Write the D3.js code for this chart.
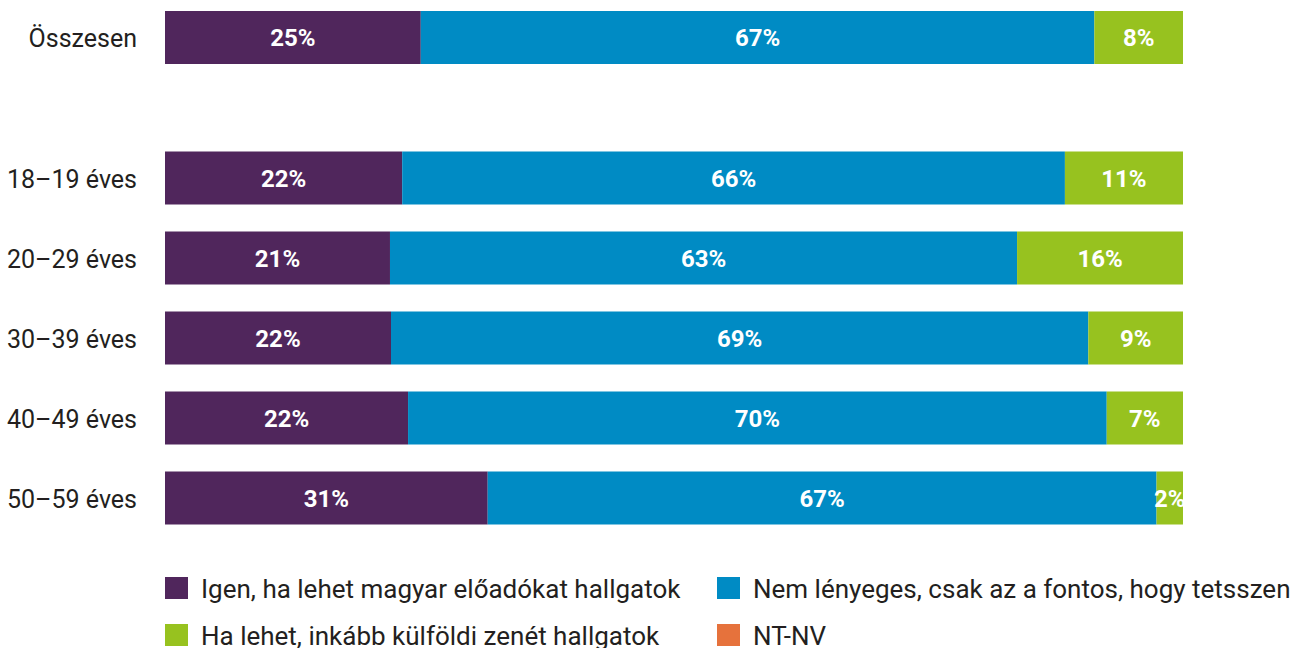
<!DOCTYPE html>
<html>
<head>
<meta charset="utf-8">
<script src="https://cdn.jsdelivr.net/npm/d3@7"></script>
<style>
  html, body { margin: 0; padding: 0; background: #fff; }
  svg { display: block; }
  text { font-family: Roboto, "Open Sans", sans-serif; }
</style>
</head>
<body>
<svg id="chart" width="1299" height="648"></svg>
<script>
// rows
const total = 'Összesen';
const ageGroups = ['18–19 éves', '20–29 éves', '30–39 éves', '40–49 éves', '50–59 éves'];
const categories = [total, ...ageGroups];

// series (share of bar)
const seriesNames = [
  'Igen, ha lehet magyar előadókat hallgatok',
  'Nem lényeges, csak az a fontos, hogy tetsszen',
  'Ha lehet, inkább külföldi zenét hallgatok',
  'NT-NV'
];
const igen = [25.1, 23.3, 22.1, 22.2, 23.9, 31.7];
const nemLenyeges = [66.1, 65.1, 61.6, 68.5, 68.7, 65.7];
const kulfoldi = [8.7, 11.6, 16.3, 9.3, 7.5, 2.6];
const ntnv = [0, 0, 0, 0, 0, 0];

// printed percentages
const igenLabels = [25, 22, 21, 22, 22, 31];
const nemLabels = [67, 66, 63, 69, 70, 67];
const kulfoldiLabels = [8, 11, 16, 9, 7, 2];
const ntnvLabels = [0, 0, 0, 0, 0, 0];

const colors = ['#50265c', '#008bc4', '#97c21f', '#e6723c'];

const keys = ['igen', 'nem', 'kulfoldi', 'ntnv'];
const values = [igen, nemLenyeges, kulfoldi, ntnv];
const labels = [igenLabels, nemLabels, kulfoldiLabels, ntnvLabels];

const table = categories.map((cat, i) => {
  const row = {cat};
  keys.forEach((k, j) => { row[k] = values[j][i]; });
  return row;
});

const svg = d3.select('#chart');

const x = d3.scaleLinear().domain([0, 1]).range([165, 1183]);

const yTotal = d3.scaleBand().domain([total]).range([-2.5, 77.5])
  .paddingInner(0.3375).paddingOuter(0.16875);
const yAges = d3.scaleBand().domain(ageGroups).range([138, 538])
  .paddingInner(0.3375).paddingOuter(0.16875);
const y = cat => cat === total ? yTotal(cat) : yAges(cat);
const bandwidth = yAges.bandwidth();

const stacked = d3.stack().keys(keys).offset(d3.stackOffsetExpand)(table);

svg.append('defs').append('clipPath').attr('id', 'plot-clip')
  .append('rect')
  .attr('x', x(0))
  .attr('y', 0)
  .attr('width', x(1) - x(0))
  .attr('height', 560);

const layers = svg.append('g').attr('class', 'bars')
  .selectAll('g')
  .data(stacked)
  .join('g')
  .attr('fill', (d, i) => colors[i]);

layers.selectAll('rect')
  .data(d => d)
  .join('rect')
  .attr('x', d => x(d[0]))
  .attr('y', d => y(d.data.cat))
  .attr('width', d => x(d[1]) - x(d[0]))
  .attr('height', bandwidth);

const labelLayer = svg.append('g')
  .attr('class', 'values')
  .attr('clip-path', 'url(#plot-clip)');

stacked.forEach((layer, j) => {
  labelLayer.selectAll(null)
    .data(layer.filter((d, i) => labels[j][i] > 0))
    .join('text')
    .attr('x', d => (x(d[0]) + x(d[1])) / 2)
    .attr('y', d => y(d.data.cat) + bandwidth / 2)
    .attr('dy', '0.36em')
    .attr('text-anchor', 'middle')
    .attr('fill', '#fff')
    .attr('font-size', 24)
    .attr('font-weight', 700)
    .text(d => labels[j][categories.indexOf(d.data.cat)] + '%');
});

// row labels
svg.append('g')
  .attr('class', 'categories')
  .selectAll('text')
  .data(categories)
  .join('text')
  .attr('x', 137)
  .attr('y', d => y(d) + bandwidth / 2)
  .attr('dy', '0.38em')
  .attr('text-anchor', 'end')
  .attr('fill', '#231f20')
  .attr('font-size', 25)
  .text(d => d);

// legend, two columns
const legendX = [165, 717];
const legendY = [577, 624];

const legend = svg.append('g')
  .attr('class', 'legend')
  .selectAll('g')
  .data(seriesNames)
  .join('g')
  .attr('transform', (d, i) => `translate(${legendX[i % 2]},${legendY[Math.floor(i / 2)]})`);

legend.append('rect')
  .attr('width', 23)
  .attr('height', 22)
  .attr('fill', (d, i) => colors[i]);

legend.append('text')
  .attr('x', 36)
  .attr('y', 21)
  .attr('fill', '#231f20')
  .attr('font-size', 26)
  .text(d => d);
</script>
</body>
</html>
